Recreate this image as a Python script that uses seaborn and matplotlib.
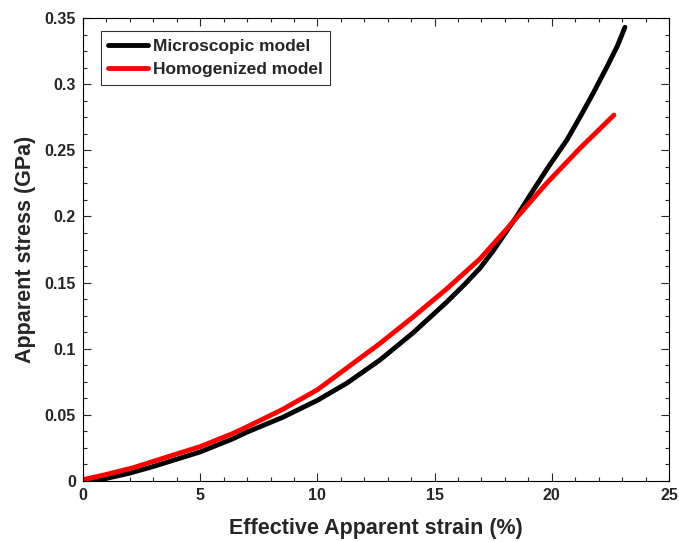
import numpy as np
import pandas as pd
import matplotlib
matplotlib.use("Agg")
import matplotlib.pyplot as plt
from matplotlib.ticker import AutoMinorLocator
import seaborn as sns

# strain (%) and stress (GPa)
micro_strain = [0.0, 1.0, 2.0, 3.0, 4.27, 5.0, 6.4, 7.0, 8.5, 10.0, 11.26, 12.67, 14.08,
                15.5, 16.3, 16.94, 17.5, 18.0, 18.5, 19.07, 19.8, 20.65, 21.2, 21.76,
                22.35, 22.8, 23.12]
micro_stress = [0.0, 0.002, 0.006, 0.011, 0.018, 0.022, 0.032, 0.037, 0.048, 0.061,
                0.074, 0.0915, 0.112, 0.135, 0.149, 0.161, 0.174, 0.187, 0.200, 0.216,
                0.236, 0.258, 0.275, 0.293, 0.313, 0.329, 0.343]

homog_strain = [0.0, 1.0, 2.13, 3.2, 4.27, 5.0, 6.4, 7.0, 8.5, 10.0, 11.26, 12.67, 14.08,
                15.5, 16.94, 18.0, 19.8, 21.2, 22.65]
homog_stress = [0.001, 0.005, 0.010, 0.016, 0.022, 0.026, 0.036, 0.041, 0.054, 0.069,
                0.0855, 0.104, 0.124, 0.145, 0.168, 0.189, 0.2255, 0.2515, 0.2766]

x_ticks = [0, 5, 10, 15, 20, 25]
y_ticks = [0, 0.05, 0.1, 0.15, 0.2, 0.25, 0.3, 0.35]
y_tick_labels = ["0", "0.05", "0.1", "0.15", "0.2", "0.25", "0.3", "0.35"]

df = pd.concat([
    pd.DataFrame({"strain": micro_strain, "stress": micro_stress, "model": "Microscopic model"}),
    pd.DataFrame({"strain": homog_strain, "stress": homog_stress, "model": "Homogenized model"}),
], ignore_index=True)

sns.set_style("ticks")
plt.rcParams["font.family"] = ["Liberation Sans", "DejaVu Sans"]
plt.rcParams["font.weight"] = "bold"

fig = plt.figure(figsize=(6.79, 5.42), dpi=100)
ax = fig.add_axes([0.1222, 0.1125, 0.8631, 0.8543])

sns.lineplot(data=df, x="strain", y="stress", hue="model", sort=False, estimator=None,
             palette={"Microscopic model": "black", "Homogenized model": "#ff0000"},
             linewidth=3.5, ax=ax)

ax.set_xlim(0, 25)
ax.set_ylim(0, 0.35)
ax.set_xticks(x_ticks)
ax.set_xticklabels([str(t) for t in x_ticks])
ax.set_yticks(y_ticks)
ax.set_yticklabels(y_tick_labels)
ax.xaxis.set_minor_locator(AutoMinorLocator(5))
ax.yaxis.set_minor_locator(AutoMinorLocator(4))
ax.tick_params(which="both", direction="in", top=True, right=True, labelsize=11.5, width=0.8)
ax.tick_params(which="major", length=6, pad=5)
ax.tick_params(which="minor", length=3)
for lbl in ax.get_xticklabels() + ax.get_yticklabels():
    lbl.set_fontweight("bold")
for sp in ax.spines.values():
    sp.set_linewidth(0.8)
    sp.set_color("black")

ax.set_xlabel("Effective Apparent strain (%)", fontsize=15.5, fontweight="bold", labelpad=11)
ax.set_ylabel("Apparent stress (GPa)", fontsize=15.5, fontweight="bold", labelpad=6)

leg = ax.legend(loc="upper left", bbox_to_anchor=(0.03, 0.972), fontsize=12.5,
                frameon=True, fancybox=False, edgecolor="black", handlelength=2.3,
                handletextpad=0.25, borderpad=0.45, labelspacing=0.45, borderaxespad=0)
leg.get_frame().set_linewidth(0.8)
for t in leg.get_texts():
    t.set_fontweight("bold")

fig.savefig("out.png", dpi=100)
